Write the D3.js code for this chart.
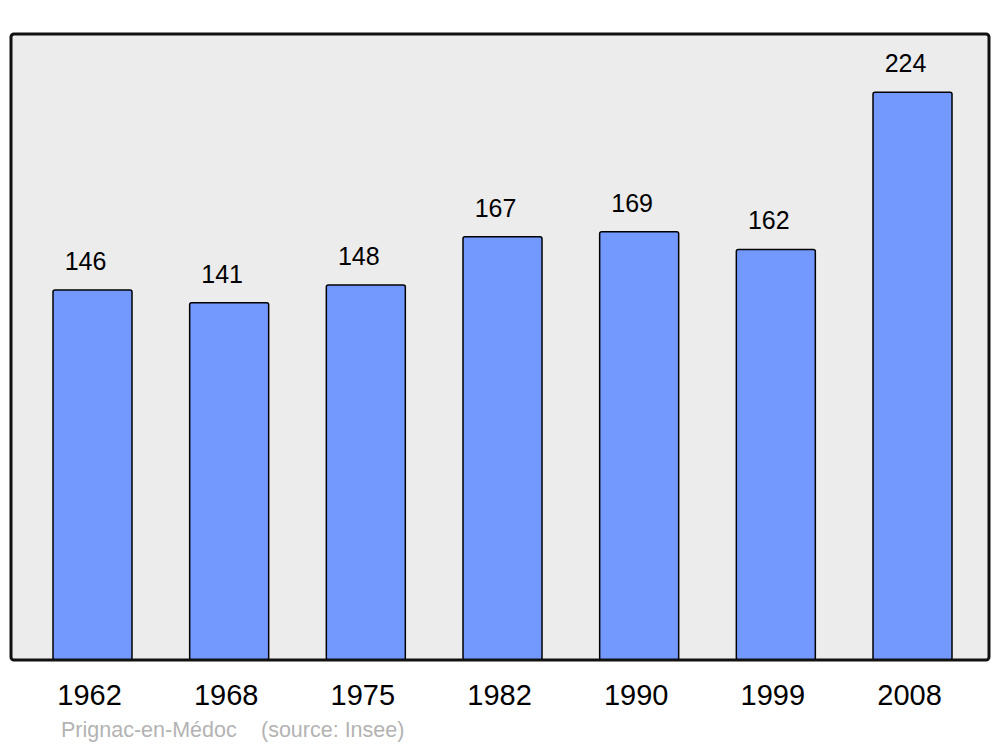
<!DOCTYPE html>
<html>
<head>
<meta charset="utf-8">
<script src="https://cdn.jsdelivr.net/npm/d3@7"></script>
<style>
  body { margin: 0; background: #fff; }
  text { font-family: "Liberation Sans", Arial, sans-serif; }
</style>
</head>
<body>
<div id="chart"></div>
<script>
// population by census year
var years = ["1962", "1968", "1975", "1982", "1990", "1999", "2008"];
var population = [146, 141, 148, 167, 169, 162, 224];
var place = "Prignac-en-Médoc";
var source = "(source: Insee)";

var width = 1000, height = 747;
var panel = {left: 11, top: 34, right: 989, bottom: 660};

var svg = d3.select("#chart").append("svg")
    .attr("width", width)
    .attr("height", height);

var x = d3.scaleBand()
    .domain(years)
    .range([53, 952])
    .paddingInner(0.422)
    .paddingOuter(0);

var y = d3.scaleLinear()
    .domain([0, 247])
    .range([panel.bottom, panel.top]);

// grey background panel
svg.append("rect")
    .attr("x", panel.left)
    .attr("y", panel.top)
    .attr("width", panel.right - panel.left)
    .attr("height", panel.bottom - panel.top)
    .attr("rx", 3)
    .attr("fill", "#ececec");

var data = years.map(function(d, i) { return {year: d, value: population[i]}; });

svg.selectAll("rect.bar")
    .data(data)
    .enter().append("rect")
    .attr("class", "bar")
    .attr("x", function(d) { return x(d.year); })
    .attr("y", function(d) { return y(d.value); })
    .attr("width", x.bandwidth())
    .attr("height", function(d) { return y(0) - y(d.value); })
    .attr("rx", 2)
    .attr("fill", "#7399ff")
    .attr("stroke", "#000")
    .attr("stroke-width", 1.5);

svg.selectAll("text.value")
    .data(data)
    .enter().append("text")
    .attr("class", "value")
    .attr("x", function(d) { return x(d.year) + x.bandwidth() / 2 - 7; })
    .attr("y", function(d) { return y(d.value) - 20; })
    .attr("text-anchor", "middle")
    .attr("font-size", 25)
    .attr("fill", "#000")
    .text(function(d) { return d.value; });

// panel border on top
svg.append("rect")
    .attr("x", panel.left)
    .attr("y", panel.top)
    .attr("width", panel.right - panel.left)
    .attr("height", panel.bottom - panel.top)
    .attr("rx", 3)
    .attr("fill", "none")
    .attr("stroke", "#111")
    .attr("stroke-width", 3);

var xAxis = d3.axisBottom(x).tickSize(0).tickPadding(0);
var gx = svg.append("g")
    .attr("transform", "translate(-3," + (panel.bottom + 45) + ")")
    .call(xAxis);
gx.select(".domain").remove();
gx.selectAll("text")
    .attr("dy", 0)
    .attr("font-size", 29)
    .attr("font-family", "Liberation Sans, Arial, sans-serif")
    .attr("fill", "#000");

svg.append("text")
    .attr("x", 61)
    .attr("y", 737)
    .attr("font-size", 21.5)
    .attr("fill", "#b3b3b3")
    .text(place);

svg.append("text")
    .attr("x", 261)
    .attr("y", 737)
    .attr("font-size", 21.5)
    .attr("fill", "#b3b3b3")
    .text(source);
</script>
</body>
</html>
